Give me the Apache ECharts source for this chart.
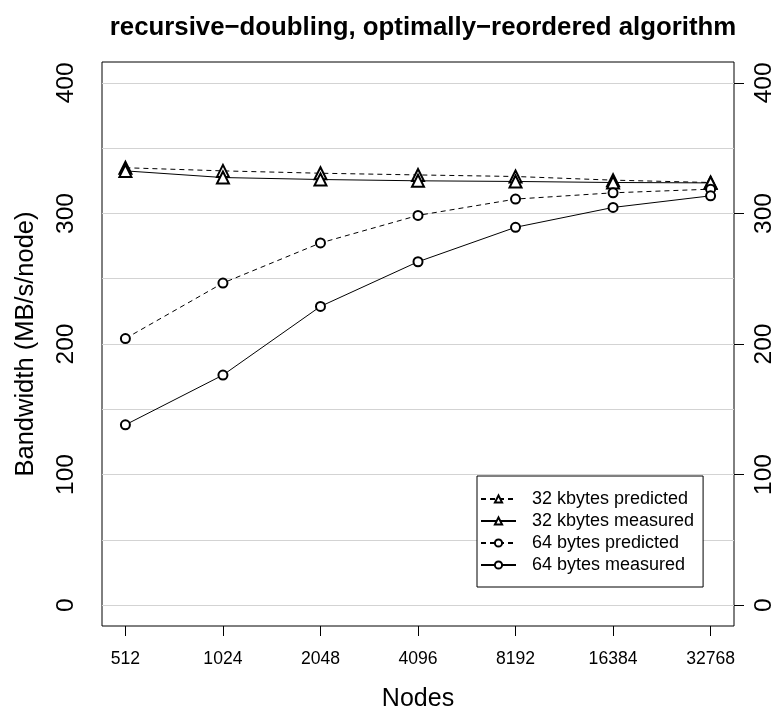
<!DOCTYPE html>
<html>
<head>
<meta charset="utf-8">
<script src="https://cdn.jsdelivr.net/npm/echarts@6/dist/echarts.min.js"></script>
<style>html,body{margin:0;padding:0;background:#fff;}#chart{width:777px;height:717px;}</style>
</head>
<body>
<div id="chart"></div>
<script>
var nodes = ['512', '1024', '2048', '4096', '8192', '16384', '32768'];
var kb32Predicted = [335, 332.6, 330.8, 329.5, 328.3, 325.5, 323.7];
var kb32Measured = [332.6, 327.5, 326, 325, 324.5, 323.7, 323.4];
var b64Predicted = [204.2, 246.7, 277.4, 298.5, 311, 315.8, 318.6];
var b64Measured = [138.1, 176.2, 228.8, 263, 289.4, 304.6, 313.5];
var yTicks = [0, 100, 200, 300, 400];
var gridValues = [0, 50, 100, 150, 200, 250, 300, 350, 400];
var seriesNames = ['32 kbytes predicted', '32 kbytes measured', '64 bytes predicted', '64 bytes measured'];
var xIndex = nodes.map(function (_, i) { return i; });

var FONT = 'Liberation Sans';
function toPts(arr) { return arr.map(function (v, i) { return [i, v]; }); }

function mkSeries(name, data, dashed, symbol, size) {
  return {
    name: name, type: 'line', data: toPts(data),
    symbol: symbol, symbolSize: size, showAllSymbol: true,
    lineStyle: { color: '#000', width: 1, type: dashed ? [5, 4] : 'solid' },
    itemStyle: { color: '#000', borderColor: '#000', borderWidth: 1 },
    z: 3, silent: true
  };
}

var chart = echarts.init(document.getElementById('chart'), null, { renderer: 'canvas' });
var yAxisBase = function (pos, margin) {
  return {
    type: 'value', position: pos, min: -16, max: 416,
    axisLine: { show: false },
    splitLine: { show: false },
    axisTick: { show: true, length: 10, customValues: yTicks, lineStyle: { color: '#000' } },
    axisLabel: { customValues: yTicks, rotate: 90, margin: margin, fontSize: 24.5, fontFamily: FONT, color: '#000' }
  };
};
var leftY = yAxisBase('left', 23);
leftY.name = 'Bandwidth (MB/s/node)';
leftY.nameLocation = 'middle';
leftY.nameGap = 63;
leftY.nameTextStyle = { fontSize: 25.5, fontFamily: FONT, color: '#000' };
var rightY = yAxisBase('right', 18);

chart.setOption({
  animation: false,
  backgroundColor: '#fff',
  title: {
    text: 'recursive\u2212doubling, optimally\u2212reordered algorithm',
    left: 418, top: 10, textAlign: 'center',
    textStyle: { fontSize: 25.8, fontWeight: 'bold', fontFamily: FONT, color: '#000' }
  },
  grid: { left: 102, right: 43, top: 62, bottom: 88, show: true, borderColor: '#000', borderWidth: 1, backgroundColor: 'transparent' },
  legend: {
    data: seriesNames, orient: 'vertical', left: 477, top: 476, z: 10,
    padding: [12, 9, 11, 3], itemWidth: 35, itemHeight: 9, itemGap: 0,
    borderColor: '#000', borderWidth: 1, borderRadius: 0, backgroundColor: '#fff',
    textStyle: { fontSize: 18, fontFamily: FONT, color: '#000', lineHeight: 22, padding: [0, 0, 0, 11] },
    selectedMode: false
  },
  xAxis: {
    type: 'value', min: -0.24, max: 6.24,
    name: 'Nodes', nameLocation: 'middle', nameGap: 61,
    nameTextStyle: { fontSize: 25, fontFamily: FONT, color: '#000' },
    axisLine: { show: false, onZero: false },
    splitLine: { show: false },
    axisTick: { show: true, length: 10, customValues: xIndex, lineStyle: { color: '#000' } },
    axisLabel: {
      customValues: xIndex, margin: 24, fontSize: 17.6, fontFamily: FONT, color: '#000',
      formatter: function (v) { return nodes[Math.round(v)]; }
    }
  },
  yAxis: [leftY, rightY],
  series: [
    {
      name: 'grid', type: 'line', data: [], silent: true, z: 1,
      markLine: {
        silent: true, z: 1, symbol: ['none', 'none'], label: { show: false },
        lineStyle: { color: '#d3d3d3', width: 1, type: 'solid' },
        data: gridValues.map(function (v) { return { yAxis: v }; }),
        animation: false
      }
    },
    mkSeries(seriesNames[0], kb32Predicted, true, 'emptyTriangle', 12),
    mkSeries(seriesNames[1], kb32Measured, false, 'emptyTriangle', 12),
    mkSeries(seriesNames[2], b64Predicted, true, 'emptyCircle', 9),
    mkSeries(seriesNames[3], b64Measured, false, 'emptyCircle', 9)
  ]
});
</script>
</body>
</html>
